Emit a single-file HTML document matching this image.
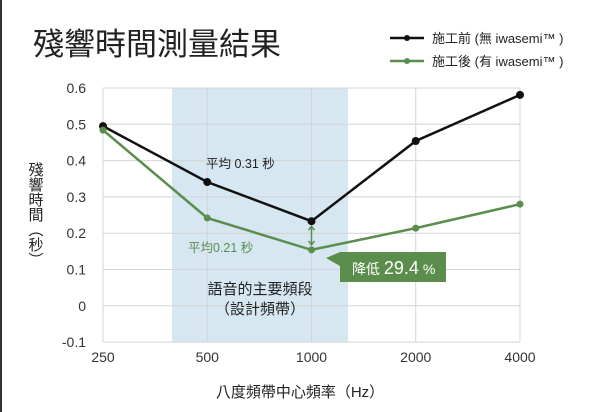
<!DOCTYPE html>
<html><head><meta charset="utf-8"><style>
body{margin:0;background:#fff;}
#wrap{position:relative;width:600px;height:412px;overflow:hidden;background:#fff;}
#edge{position:absolute;left:0;top:0;width:2px;height:412px;background:#333;}
svg{position:absolute;left:0;top:0;}
svg text{font-family:"Liberation Sans","Noto Sans CJK TC",sans-serif;}
</style></head><body>
<div id="wrap">
<svg id="chart" width="600" height="412"></svg>
<div id="edge"></div>
</div>
<script>
const categories=["250","500","1000","2000","4000"];
const beforeValues=[0.495,0.341,0.233,0.454,0.581];
const afterValues=[0.484,0.242,0.154,0.214,0.28];
const yTicks=[0.6,0.5,0.4,0.3,0.2,0.1,0,-0.1];
const yTickLabels=["0.6","0.5","0.4","0.3","0.2","0.1","0","-0.1"];

const NS="http://www.w3.org/2000/svg";
const svg=document.getElementById('chart');
function el(t,a,txt){const e=document.createElementNS(NS,t);for(const k in a)e.setAttribute(k,a[k]);if(txt!==undefined)e.textContent=txt;svg.appendChild(e);return e;}
const x=i=>103+i*104.25;
const y=v=>88+(0.6-v)*363;
let e;
e=el('rect',{x:172,y:88,width:176,height:254,fill:'#d6e7f1'});


yTicks.forEach((v,i)=>{
 e=el('line',{x1:103,x2:520,y1:y(v),y2:y(v),stroke:'#d4d4d4','stroke-width':1});
 
 
 e=el('text',{x:86,y:y(v)+5,'text-anchor':'end','font-size':14,fill:'#333'},yTickLabels[i]);
 
 
});
categories.forEach((c,i)=>{
 e=el('line',{x1:x(i),x2:x(i),y1:88,y2:342,stroke:'#d4d4d4','stroke-width':1});
 
 
 e=el('text',{x:x(i),y:362,'text-anchor':'middle','font-size':14,fill:'#333'},c);
 
 
});
function series(vals,color,r,name){
 e=el('polyline',{points:vals.map((v,i)=>x(i)+','+y(v)).join(' '),fill:'none',stroke:color,'stroke-width':2.5});
 
 
 vals.forEach((v,i)=>{e=el('circle',{cx:x(i),cy:y(v),r:r,fill:color});
 
 });
}
series(beforeValues,'#111',4,'before');
series(afterValues,'#5b8e4d',3.5,'after');
const ax=x(2),ay1=y(beforeValues[2])+5,ay2=y(afterValues[2])-5;
e=el('path',{d:`M${ax} ${ay1} L${ax} ${ay2} M${ax-3} ${ay1+4} L${ax} ${ay1} L${ax+3} ${ay1+4} M${ax-3} ${ay2-4} L${ax} ${ay2} L${ax+3} ${ay2-4}`,stroke:'#5b8e4d','stroke-width':1.5,fill:'none'});


e=el('path',{d:'M326 258 L340 252 L446 252 L446 282 L340 282 L340 266 Z',fill:'#5b8e4d'});


e=el('text',{x:352,y:274,'font-size':14,fill:'#fff'});
e.innerHTML='降低 <tspan font-size="18">29.4</tspan> %';


e=el('text',{x:206,y:168,'font-size':12.5,fill:'#222'},'平均 0.31 秒');


e=el('text',{x:188,y:252,'font-size':12.5,fill:'#5b8e4d'},'平均0.21 秒');


e=el('text',{x:260,y:294,'font-size':15,fill:'#222','text-anchor':'middle'},'語音的主要頻段');


e=el('text',{x:260,y:314,'font-size':15,fill:'#222','text-anchor':'middle'},'（設計頻帶）');


e=el('text',{x:300,y:397,'font-size':15,fill:'#222','text-anchor':'middle'},'八度頻帶中心頻率（Hz）');


e=el('text',{x:35,y:162,'font-size':15,fill:'#222','writing-mode':'tb','glyph-orientation-vertical':0},'殘響時間（秒）');


e=el('text',{x:33,y:55,'font-size':31,fill:'#222'},'殘響時間測量結果');


e=el('line',{x1:390,x2:424,y1:38,y2:38,stroke:'#111','stroke-width':2.5});


e=el('circle',{cx:407,cy:38,r:3,fill:'#111'});


e=el('text',{x:432,y:43,'font-size':13,fill:'#222'},'施工前 (無 iwasemi™ )');


e=el('line',{x1:390,x2:424,y1:61,y2:61,stroke:'#5b8e4d','stroke-width':2.5});


e=el('circle',{cx:407,cy:61,r:3,fill:'#5b8e4d'});


e=el('text',{x:432,y:66,'font-size':13,fill:'#222'},'施工後 (有 iwasemi™ )');


</script>
</body></html>
